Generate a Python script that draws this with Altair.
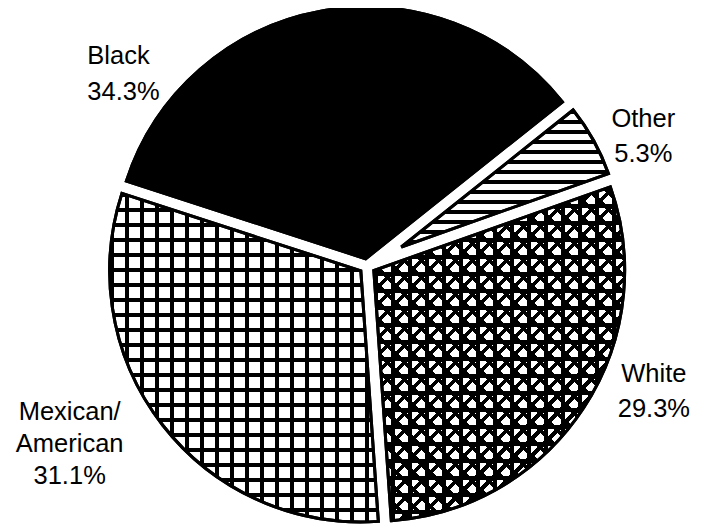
import math
import altair as alt
import pandas as pd

# ---- data ----
categories = ["Mexican/American", "Black", "Other", "White"]
label_text = ["Mexican/\nAmerican", "Black", "Other", "White"]
shares = [31.1, 34.3, 5.3, 29.3]
order = [0, 1, 2, 3]

# ---- layout / style ----
W, H = 654, 516
PAD_L, PAD_T, PAD_B = 32, 0, 20
CX, CY = W / 2, H / 2
R0 = 259
HALF_GAP = 6.5
START = math.radians(176)
INK = "#000000"
CLEAR = "rgba(0,0,0,0)"
FONT = "Liberation Sans"
FS = 25.5

df = pd.DataFrame({"cat": categories, "label": label_text, "pct": shares, "idx": order})

theta_scale = alt.Scale(domain=[0, 100], range=[START, START + 2 * math.pi])


def wedge_bbox(i):
    t0 = sum(shares[:i])
    t1 = t0 + shares[i]
    a0 = START + t0 / 100 * 2 * math.pi
    a1 = START + t1 / 100 * 2 * math.pi
    mid = (a0 + a1) / 2
    d = HALF_GAP / math.sin(shares[i] / 100 * math.pi)
    ox, oy = d * math.sin(mid), -d * math.cos(mid)
    r = R0 - d
    pts = [(ox, oy)]
    for k in range(201):
        a = a0 + (a1 - a0) * k / 200
        pts.append((ox + r * math.sin(a), oy - r * math.cos(a)))
    xs = [p[0] for p in pts]
    ys = [p[1] for p in pts]
    return max(xs) - min(xs), max(ys) - min(ys)


def stripes(n, frac, x1, y1, x2, y2):
    stops = []
    k = 0
    while k / n < 1:
        a, b, c = k / n, (k + frac) / n, (k + 1) / n
        stops.append({"offset": a, "color": INK})
        stops.append({"offset": min(b, 1), "color": INK})
        if b < 1:
            stops.append({"offset": b, "color": CLEAR})
            stops.append({"offset": min(c, 1), "color": CLEAR})
        k += 1
    return {"gradient": "linear", "x1": x1, "y1": y1, "x2": x2, "y2": y2, "stops": stops}


def vertical_lines(bw, bh, period, width):
    return stripes(bw / period, width / period, 0, 0, 1, 0)


def horizontal_lines(bw, bh, period, width):
    return stripes(bh / period, width / period, 0, 0, 0, 1)


def diag_lines(bw, bh, period, width, flip=False):
    s = bw * bw + bh * bh
    gx = (bw + bh) * bw / s
    gy = (bw + bh) * bh / s
    n = (bw + bh) / math.sqrt(2) / period
    if flip:
        return stripes(n, width / period, 0, 1, gx, 1 - gy)
    return stripes(n, width / period, 0, 0, gx, gy)


def arc_layer(cat=None, **mark_kw):
    ch = alt.Chart().mark_arc(**mark_kw).encode(
        theta=alt.Theta("t0:Q", scale=theta_scale, stack=None),
        theta2="t1:Q",
        radius=alt.Radius("r:Q", scale=None),
        x=alt.X("cx:Q", scale=None, axis=None),
        y=alt.Y("cy:Q", scale=None, axis=None),
    )
    if cat is not None:
        ch = ch.transform_filter(alt.datum.cat == cat)
    return ch


layers = []
# base fills
base_fill = {"Mexican/American": "white", "Black": "black", "Other": "white", "White": "white"}
for c in categories:
    layers.append(arc_layer(c, fill=base_fill[c], stroke="black", strokeWidth=3))

# patterns
bw, bh = wedge_bbox(categories.index("Mexican/American"))
layers.append(arc_layer("Mexican/American", fill=vertical_lines(bw, bh, 15, 4)))
layers.append(arc_layer("Mexican/American", fill=horizontal_lines(bw, bh, 15, 4)))

bw, bh = wedge_bbox(categories.index("Other"))
layers.append(arc_layer("Other", fill=horizontal_lines(bw, bh, 10, 4)))

bw, bh = wedge_bbox(categories.index("White"))
layers.append(arc_layer("White", fill=vertical_lines(bw, bh, 17, 4)))
layers.append(arc_layer("White", fill=horizontal_lines(bw, bh, 17, 4)))
layers.append(arc_layer("White", fill=diag_lines(bw, bh, 12, 3.6)))
layers.append(arc_layer("White", fill=diag_lines(bw, bh, 12, 3.6, flip=True)))

# outlines on top
layers.append(arc_layer(None, fill="white", fillOpacity=0, stroke="black", strokeWidth=3))

# labels
label_style = {
    "Mexican/American": dict(align="center", dx=-61, dy=-39, lineHeight=32),
    "Black": dict(align="left", dx=-226, dy=85, lineHeight=36),
    "Other": dict(align="center", dx=14, dy=-1, lineHeight=35),
    "White": dict(align="center", dx=36, dy=-57, lineHeight=35),
}
for c in categories:
    st = label_style[c]
    layers.append(
        alt.Chart()
        .mark_text(
            baseline="middle", font=FONT, fontSize=FS, color="black",
            lineBreak="\n", radius=300, **st
        )
        .encode(theta=alt.Theta("mid:Q", scale=theta_scale, stack=None), text="txt:N")
        .transform_filter(alt.datum.cat == c)
    )

ang = f"({START} + datum.mid / 100 * 2 * PI)"
chart = (
    alt.layer(*layers, data=df)
    .transform_window(t1="sum(pct)", sort=[alt.SortField("idx", order="ascending")])
    .transform_calculate(
        t0="datum.t1 - datum.pct",
        mid="datum.t1 - datum.pct / 2",
        dd=f"{HALF_GAP} / sin(datum.pct / 100 * PI)",
        txt="datum.label + '\\n' + format(datum.pct, '.1f') + '%'",
    )
    .transform_calculate(
        cx=f"{CX} + datum.dd * sin{ang}",
        cy=f"{CY} - datum.dd * cos{ang}",
        r=f"{R0} - datum.dd",
    )
    .properties(
        width=W, height=H, autosize="none",
        padding={"left": PAD_L, "top": PAD_T, "right": 0, "bottom": PAD_B},
        background="white",
    )
    .configure_view(strokeWidth=0)
)

chart.save("out.html", embed_options={"renderer": "svg", "actions": False})
